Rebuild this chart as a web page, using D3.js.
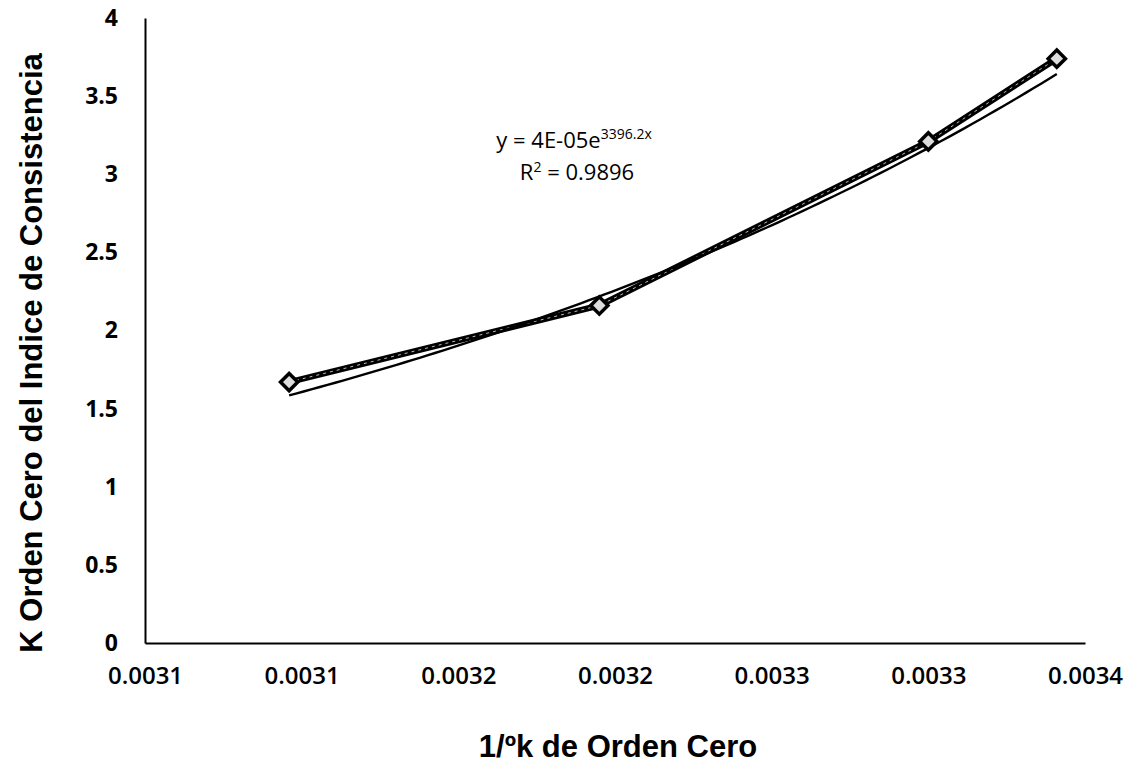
<!DOCTYPE html>
<html>
<head>
<meta charset="utf-8">
<script src="https://cdn.jsdelivr.net/npm/d3@7/dist/d3.min.js"></script>
<style>
  html, body { margin: 0; padding: 0; background: #fff; }
  svg { display: block; }
</style>
</head>
<body>
<svg id="chart" width="1136" height="767"></svg>
<script>
// Inverse absolute temperature (1/K) and zero-order consistency index constant
const invTemp = [0.003096, 0.003195, 0.003300, 0.003341];
const kValues = [1.67, 2.16, 3.21, 3.74];

// Axis ticks
const xTicks = [0.00305, 0.00310, 0.00315, 0.00320, 0.00325, 0.00330, 0.00335];
const yTicks = [0, 0.5, 1, 1.5, 2, 2.5, 3, 3.5, 4];

// Exponential trendline y = a * e^(b x)
const trendA = 4.3e-5;
const trendB = 3396.2;
const trendR2 = 0.9896;

const xTitle = "1/ºk de Orden Cero";
const yTitle = "K  Orden Cero del Indice de Consistencia";

const svg = d3.select("#chart");
const plotLeft = 145, plotRight = 1085, plotTop = 18, plotBottom = 643;

const x = d3.scaleLinear().domain([0.00305, 0.00335]).range([plotLeft, plotRight]);
const y = d3.scaleLinear().domain([0, 4]).range([plotBottom, plotTop]);

const tickFont = "'Open Sans', 'DejaVu Sans', sans-serif";
const titleFont = "'Liberation Sans', Arial, sans-serif";

// Axes (tick labels rounded to four decimals, half up)
const fmt4 = d => (Math.round(d * 10000 + 1e-9) / 10000).toFixed(4);
const xAxis = d3.axisBottom(x).tickValues(xTicks).tickSize(0).tickPadding(24).tickFormat(fmt4);
const gx = svg.append("g").attr("transform", `translate(0,${plotBottom})`).call(xAxis);
gx.select(".domain").attr("stroke", "#000").attr("stroke-width", 2);
gx.selectAll("text")
  .attr("font-family", tickFont).attr("font-size", 24).attr("font-weight", 600)
  .attr("fill", "#000").attr("dy", "0.71em");

const yAxis = d3.axisLeft(y).tickValues(yTicks).tickSize(0).tickPadding(27)
  .tickFormat(d => String(d));
const gy = svg.append("g").attr("transform", `translate(${plotLeft},0)`).call(yAxis);
gy.select(".domain").attr("stroke", "#000").attr("stroke-width", 2);
gy.selectAll("text")
  .attr("font-family", tickFont).attr("font-size", 23).attr("font-weight", 700)
  .attr("fill", "#000");

// Data series line
const pts = invTemp.map((v, i) => [v, kValues[i]]);
const line = d3.line().x(d => x(d[0])).y(d => y(d[1]));
svg.append("path").datum(pts).attr("d", line)
  .attr("fill", "none").attr("stroke", "#000").attr("stroke-width", 6)
  .attr("stroke-linejoin", "round");
svg.append("path").datum(pts).attr("d", line)
  .attr("fill", "none").attr("stroke", "#bbb").attr("stroke-width", 1)
  .attr("stroke-dasharray", "3,4");

// Exponential trendline across the data range
const xs = d3.range(0, 101).map(i => invTemp[0] + (invTemp[invTemp.length - 1] - invTemp[0]) * i / 100);
const trend = xs.map(v => [v, trendA * Math.exp(trendB * v)]);
svg.append("path").datum(trend).attr("d", line)
  .attr("fill", "none").attr("stroke", "#000").attr("stroke-width", 2.4);

// Diamond markers
const diamond = d3.symbol().type(d3.symbolDiamond2 || d3.symbolDiamond).size(190);
svg.selectAll(".marker").data(pts).join("path")
  .attr("class", "marker")
  .attr("transform", d => `translate(${x(d[0])},${y(d[1])})`)
  .attr("d", diamond)
  .attr("fill", "#ddd").attr("stroke", "#000").attr("stroke-width", 3.5);

// Trendline equation and R²
const expLabel = trendA.toExponential(0).toUpperCase().replace(/E([+-])(\d)$/, "E$10$2");
const eq = svg.append("text").attr("x", 574).attr("y", 148)
  .attr("text-anchor", "middle").attr("font-family", tickFont)
  .attr("font-size", 22).attr("fill", "#000");
eq.append("tspan").text(`y = ${expLabel}e`);
eq.append("tspan").attr("font-size", 14).attr("dy", -9).text(`${trendB}x`);
const r2 = svg.append("text").attr("x", 577).attr("y", 180)
  .attr("text-anchor", "middle").attr("font-family", tickFont)
  .attr("font-size", 22).attr("fill", "#000");
r2.append("tspan").text("R");
r2.append("tspan").attr("font-size", 14).attr("dy", -8).text("2");
r2.append("tspan").attr("dy", 8).text(` = ${trendR2}`);

// Axis titles
svg.append("text").attr("x", 618).attr("y", 757)
  .attr("text-anchor", "middle").attr("font-family", titleFont)
  .attr("font-size", 31).attr("font-weight", 700).attr("fill", "#000")
  .text(xTitle);
svg.append("text")
  .attr("transform", "translate(42,353) rotate(-90)")
  .attr("text-anchor", "middle").attr("font-family", titleFont)
  .attr("font-size", 31).attr("font-weight", 700).attr("fill", "#000")
  .text(yTitle);
</script>
</body>
</html>
